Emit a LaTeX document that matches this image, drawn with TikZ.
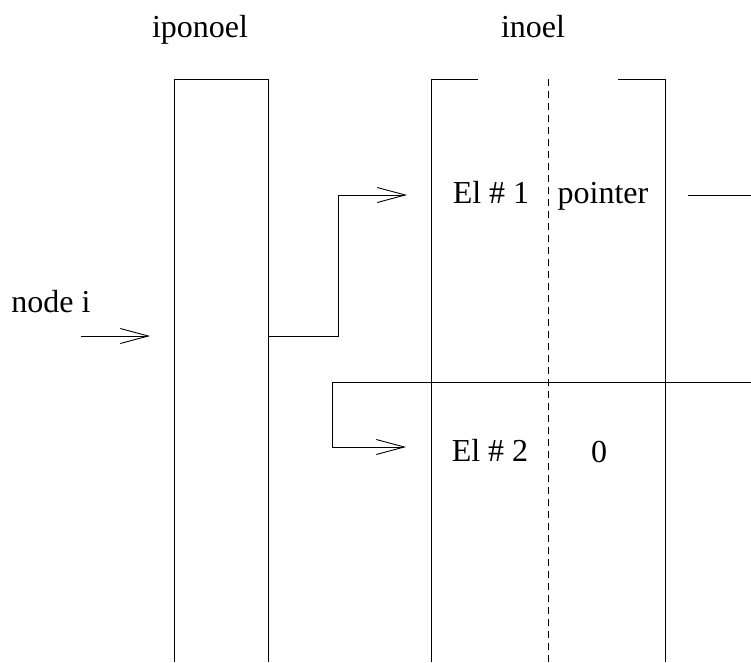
\documentclass[tikz,border=0pt]{standalone}
\usepackage{fontspec}
\setmainfont{Liberation Serif}
\usetikzlibrary{arrows.meta}
\begin{document}
\begin{tikzpicture}[x=1pt,y=-1pt,
  wire/.style={line width=0.9pt,line join=miter},
  ptr/.style={wire,-{Straight Barb[length=28pt,width=15pt,line width=0.9pt]}},
  lbl/.style={anchor=base,inner sep=0pt,font=\fontsize{32}{38}\selectfont},
  divider/.style={line width=0.9pt,dash pattern=on 7pt off 5pt}]
\useasboundingbox (0,0) rectangle (751,662);
% coordinates
\coordinate (lbTL) at (174,79);
\coordinate (lbTR) at (268,79);
\coordinate (lbBL) at (174,662);
\coordinate (lbBR) at (268,662);
\coordinate (ibTL) at (431,79);
\coordinate (ibTR) at (665,79);
\coordinate (ibBL) at (431,662);
\coordinate (ibBR) at (665,662);
\coordinate (ibGapL) at (478,79);
\coordinate (ibGapR) at (618,79);
\coordinate (dashT) at (548,79);
\coordinate (dashB) at (548,662);
% labels
\node[lbl] (tip) at (200,37) {iponoel};
\node[lbl] (tin) at (533,37) {inoel};
\node[lbl] (nodei) at (51,312) {node i};
\node[lbl] (el1) at (491,203) {El \# 1};
\node[lbl] (ptrtxt) at (603,203) {pointer};
\node[lbl] (el2) at (490,461) {El \# 2};
\node[lbl] (zero) at (599,462) {0};
% boxes
\draw[wire] (lbBL) -- (lbTL) -- (lbTR) -- (lbBR);
\draw[wire] (ibGapL) -- (ibTL) -- (ibBL);
\draw[wire] (ibGapR) -- (ibTR) -- (ibBR);
\draw[divider] (dashT) -- (dashB);
% connectors
\coordinate (inS) at (81,336);
\coordinate (inE) at (150,336);
\draw[ptr] (inS) -- (inE);
\coordinate (c1a) at (268,336);
\coordinate (c1b) at (338,336);
\coordinate (c1c) at (338,195);
\coordinate (c1d) at (407,195);
\draw[ptr] (c1a) -- (c1b) -- (c1c) -- (c1d);
\coordinate (p1a) at (688,195);
\coordinate (p1b) at (751,195);
\draw[wire] (p1a) -- (p1b);
\coordinate (c2a) at (751,382);
\coordinate (c2b) at (332,382);
\coordinate (c2c) at (332,447);
\coordinate (c2d) at (406,447);
\draw[ptr] (c2a) -- (c2b) -- (c2c) -- (c2d);
\end{tikzpicture}
\end{document}
